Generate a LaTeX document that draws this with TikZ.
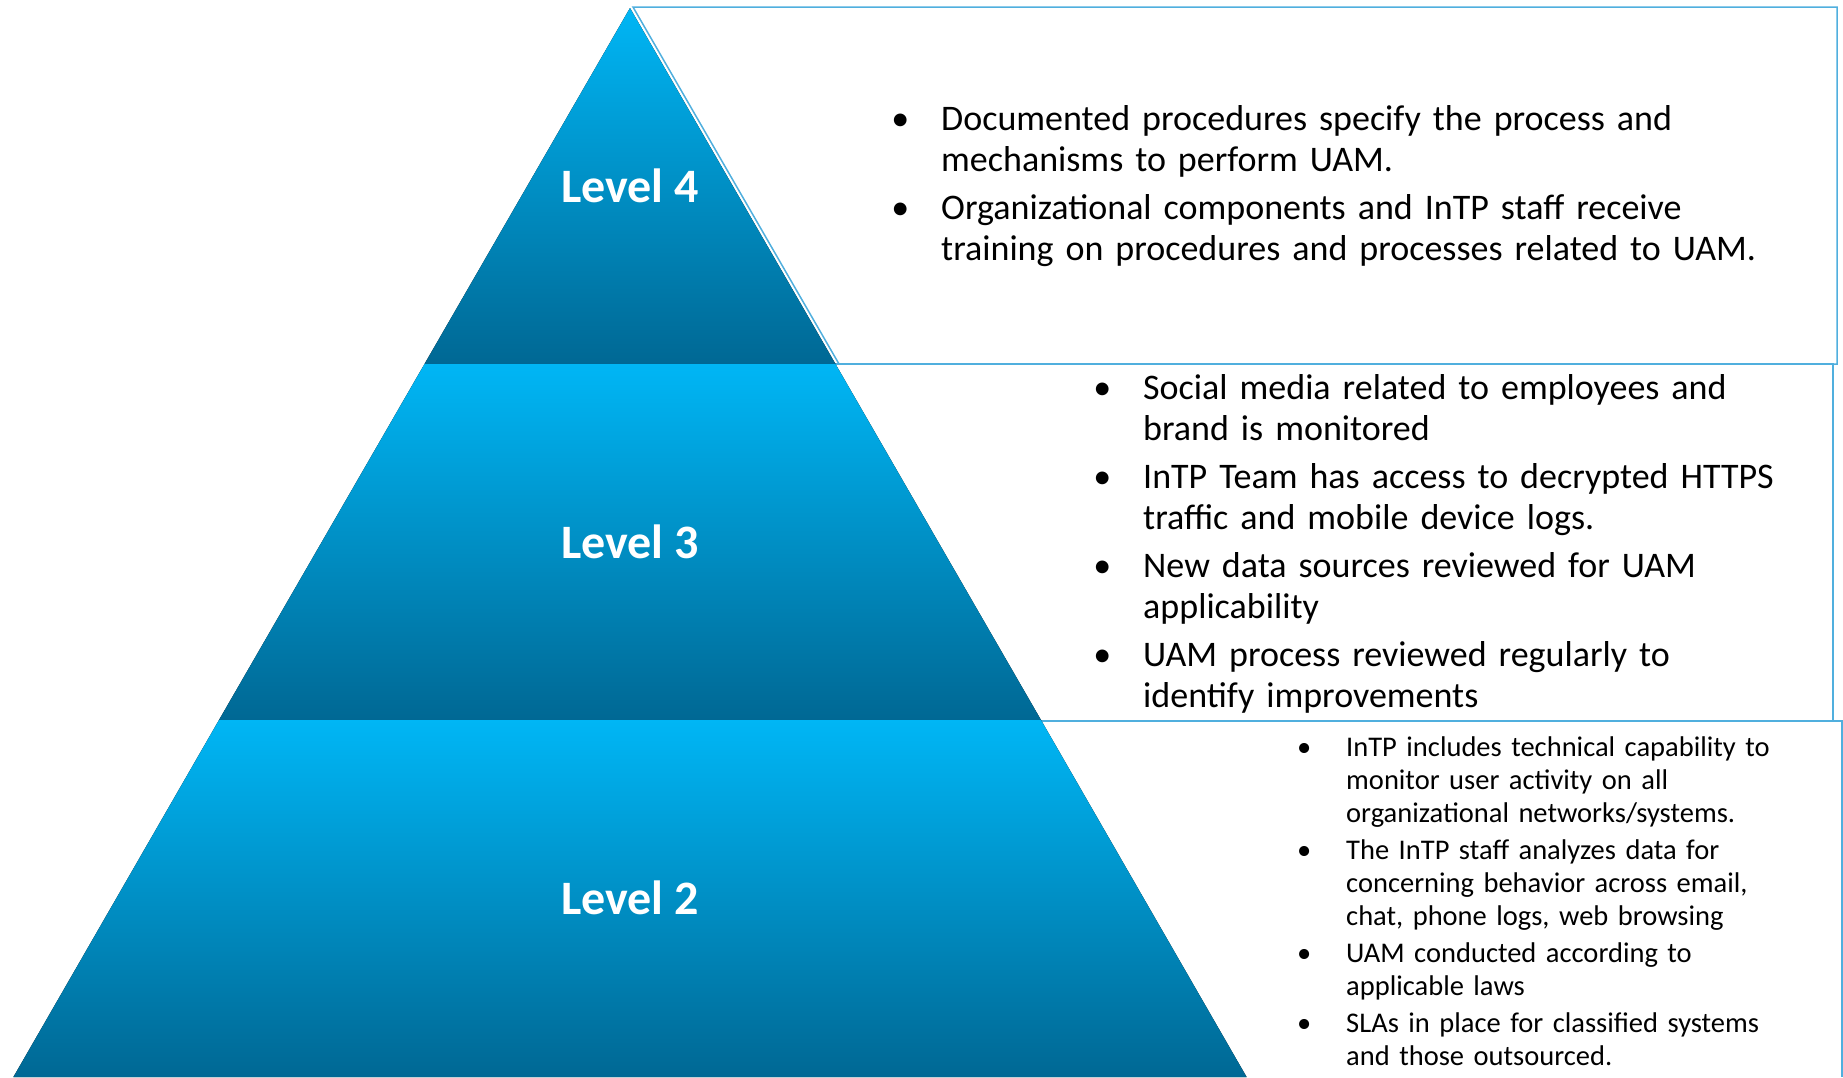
\documentclass[tikz,border=0pt]{standalone}
\usepackage{fontspec}
\setmainfont{Carlito}

\definecolor{lvltop}{RGB}{0,182,245}
\definecolor{lvlbot}{RGB}{0,104,148}
\definecolor{boxline}{RGB}{80,175,222}

\newenvironment{uamitems}[3]{%
  \begin{list}{\textbullet}{%
    \setlength{\leftmargin}{#1}%
    \setlength{\labelwidth}{20pt}%
    \setlength{\labelsep}{#2}%
    \setlength{\itemsep}{#3}%
    \setlength{\topsep}{0pt}%
    \setlength{\partopsep}{0pt}%
    \setlength{\parsep}{0pt}}}%
  {\end{list}}

\begin{document}
\begin{tikzpicture}[x=1pt,y=-1pt]
  \tikzset{
    band/.style={top color=lvltop,bottom color=lvlbot,draw=none},
    infobox/.style={draw=boxline,line width=1.5pt},
    level/.style={text=white,inner sep=0pt,font=\fontsize{48}{56}\selectfont\bfseries},
    bigtext/.style={anchor=north west,inner sep=0pt,align=left,
      font=\fontsize{36}{41}\selectfont},
    smalltext/.style={anchor=north west,inner sep=0pt,align=left,
      font=\fontsize{28.5}{33}\selectfont}
  }
  \useasboundingbox (0,0) rectangle (1843,1077);

  % boxes behind the pyramid
  \draw[infobox] (1000,1077) -- (1000,721) -- (1842,721) -- (1842,1077);
  \draw[infobox] (800,364) rectangle (1833,721);
  \draw[infobox] (633,7) -- (1837,7) -- (1837,364) -- (839,364) -- cycle;

  % pyramid bands
  \fill[band] (630,8) -- (835.5,364) -- (424.5,364) -- cycle;
  \fill[band] (424.5,364) -- (835.5,364) -- (1041,720) -- (219,720) -- cycle;
  \fill[band] (219,720) -- (1041,720) -- (1246.6,1077) -- (13.4,1077) -- cycle;

  \node[level] (lvl4) at (630,186) {Level 4};
  \node[level] (lvl3) at (630,542) {Level 3};
  \node[level] (lvl2) at (630,898) {Level 2};

  \node[bigtext,text width=930pt] (txt4) at (895,89) {%
    \begin{uamitems}{46pt}{32pt}{7pt}
      \item Documented procedures specify the process and\\
            mechanisms to perform UAM.
      \item Organizational components and InTP staff receive\\
            training on procedures and processes related to UAM.
    \end{uamitems}};

  \node[bigtext,text width=735pt] (txt3) at (1097,358) {%
    \begin{uamitems}{46pt}{32pt}{7pt}
      \item Social media related to employees and\\
            brand is monitored
      \item InTP Team has access to decrypted HTTPS\\
            traffic and mobile device logs.
      \item New data sources reviewed for UAM\\
            applicability
      \item UAM process reviewed regularly to\\
            identify improvements
    \end{uamitems}};

  \node[smalltext,text width=540pt] (txt2) at (1301,723) {%
    \begin{uamitems}{45pt}{35pt}{4pt}
      \item InTP includes technical capability to\\
            monitor user activity on all\\
            organizational networks/systems.
      \item The InTP staff analyzes data for\\
            concerning behavior across email,\\
            chat, phone logs, web browsing
      \item UAM conducted according to\\
            applicable laws
      \item SLAs in place for classified systems\\
            and those outsourced.
    \end{uamitems}};
\end{tikzpicture}
\end{document}
